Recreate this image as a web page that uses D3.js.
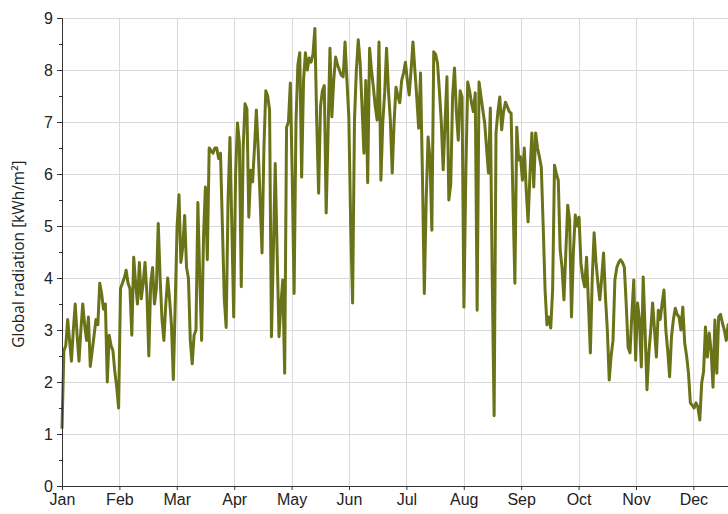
<!DOCTYPE html>
<html>
<head>
<meta charset="utf-8">
<script src="https://cdn.jsdelivr.net/npm/d3@7"></script>
<style>
  html, body { margin: 0; padding: 0; background: #fff; overflow: hidden; }
  svg { display: block; font-family: "Open Sans", "Noto Sans", sans-serif; }
</style>
</head>
<body>
<svg id="chart" width="728" height="514"></svg>
<script>
// ---- data (kWh/m² per day) ----
const months = ["Jan","Feb","Mar","Apr","May","Jun","Jul","Aug","Sep","Oct","Nov","Dec"];
const yTicks = [0,1,2,3,4,5,6,7,8,9];

const jan = [1.1,2.6,2.7,3.2,2.8,2.4,3.0,3.5,2.9,2.4,3.0,3.5,3.1,2.8,3.25,2.3,2.6,2.9,3.2,3.1,3.9,3.7,3.4,3.5,2.0,2.9,2.7,2.6,2.2,1.9,1.5];
const feb = [3.8,3.9,4.0,4.15,3.9,3.8,2.9,4.4,3.9,3.5,4.3,3.6,3.9,4.3,3.7,2.5,3.9,4.2,3.5,3.8,5.05,4.0,3.2,2.8,3.5,4.0,3.6,3.1];
const mar = [2.05,3.5,5.0,5.6,4.3,4.6,5.2,4.2,4.0,2.8,2.35,2.9,3.0,5.45,4.0,2.8,4.8,5.75,4.35,6.5,6.45,6.4,6.5,6.5,6.3,6.4,5.0,3.6,3.05,5.5,6.7];
const apr = [5.0,3.25,6.0,6.98,6.6,3.83,6.5,7.35,7.25,5.17,6.07,5.85,6.5,7.23,6.46,5.5,4.48,6.5,7.6,7.5,7.23,2.87,4.5,6.2,4.5,2.87,3.5,3.96,2.17,6.9];
const may = [7.0,7.75,6.0,3.7,7.0,8.1,8.33,5.94,7.8,8.33,8.0,8.23,8.15,8.3,8.8,7.0,5.63,7.3,7.6,7.7,5.25,6.8,8.42,7.1,7.8,8.25,8.1,8.0,7.9,7.87,8.54];
const jun = [7.8,7.1,5.0,3.52,7.04,8.0,8.58,8.13,7.3,6.4,7.8,5.83,8.42,8.0,7.67,7.3,7.04,8.54,5.88,7.0,7.56,8.42,7.6,7.04,6.02,7.0,7.67,7.5,7.37,7.8];
const jul = [7.94,8.15,7.8,7.52,8.0,8.54,8.0,7.48,6.88,7.94,6.0,3.7,5.5,6.71,6.3,4.92,8.35,8.3,8.13,7.6,7.0,6.08,7.0,7.87,5.5,5.8,7.5,8.04,7.2,6.65,7.6];
const aug = [7.48,3.44,6.0,7.77,7.6,7.37,7.2,7.56,3.38,7.77,7.5,7.23,6.98,6.5,6.02,7.27,4.0,1.35,6.79,7.2,7.48,6.85,7.2,7.38,7.3,7.2,7.17,5.5,3.9,6.9,6.27];
const sep = [6.33,5.88,6.5,5.69,5.08,6.0,6.79,5.75,6.79,6.5,6.33,6.13,5.0,3.77,3.1,3.25,3.04,3.77,6.17,6.0,5.88,4.54,4.2,3.58,4.5,5.4,5.12,3.25,4.5,5.21];
const oct = [5.0,5.17,4.29,4.0,3.83,4.4,3.5,2.56,4.0,4.87,4.3,3.9,3.58,4.0,4.48,3.63,3.0,2.04,2.5,2.8,3.96,4.2,4.3,4.35,4.3,4.21,3.5,2.67,2.56,3.3,3.96];
const nov = [2.42,3.52,3.2,2.29,4.02,3.0,1.85,2.56,3.0,3.52,3.0,2.48,3.38,3.2,3.5,3.77,3.0,2.6,2.1,2.87,3.2,3.42,3.3,3.25,3.0,3.44,2.75,2.5,2.17,1.6];
const dec = [1.55,1.5,1.6,1.52,1.27,1.98,2.2,3.06,2.48,2.94,2.6,1.9,3.19,2.17,3.25,3.3,3.13,3.0,2.8,3.1,2.7,2.5,3.0,2.2,2.8,1.9,2.4,3.0,2.6,2.1,2.7];

const radiation = [].concat(jan, feb, mar, apr, may, jun, jul, aug, sep, oct, nov, dec);

// ---- layout ----
const svg = d3.select("#chart");
const mLeft = 62, mTop = 18, mBottom = 486;
const dayPx = 1.887;
const x = d3.scaleLinear().domain([0, 365]).range([mLeft, mLeft + 365 * dayPx]);
const y = d3.scaleLinear().domain([0, 9]).range([mBottom, mTop]);
const monthPos = months.map((m, i) => i * 365 / 12);

// gridlines
const grid = svg.append("g");
grid.selectAll("line.h").data(yTicks).enter().append("line")
  .attr("x1", mLeft).attr("x2", 728)
  .attr("y1", d => Math.round(y(d)) + 0.5).attr("y2", d => Math.round(y(d)) + 0.5)
  .attr("stroke", "#d9d9d9").attr("stroke-width", 1);
grid.selectAll("line.v").data(monthPos.slice(1)).enter().append("line")
  .attr("x1", d => Math.round(x(d)) + 0.5).attr("x2", d => Math.round(x(d)) + 0.5)
  .attr("y1", mTop).attr("y2", mBottom)
  .attr("stroke", "#d9d9d9").attr("stroke-width", 1);

// line
const line = d3.line().x((d, i) => x(i)).y(d => y(d)).curve(d3.curveLinear);
svg.append("path").datum(radiation)
  .attr("d", line)
  .attr("fill", "none")
  .attr("stroke", "#6b7318")
  .attr("stroke-width", 3)
  .attr("stroke-linejoin", "round");

// y axis
const yAxis = svg.append("g").attr("transform", `translate(${mLeft},0)`)
  .call(d3.axisLeft(y).tickValues(yTicks).tickSize(5).tickFormat(d3.format("d")));
svg.append("g").attr("transform", `translate(${mLeft},0)`)
  .call(d3.axisLeft(y).tickValues(d3.range(0.5, 9, 1)).tickSize(3).tickFormat(""))
  .select(".domain").remove();

// x axis
const xAxis = svg.append("g").attr("transform", `translate(0,${mBottom})`)
  .call(d3.axisBottom(x).tickValues(monthPos).tickSize(4).tickFormat((d, i) => months[i]));
xAxis.select(".domain").attr("d", `M${mLeft},0.5H728`);

svg.selectAll(".tick text").attr("fill", "#222").style("font-size", "16px");
svg.selectAll(".domain, .tick line").attr("stroke", "#333");
yAxis.selectAll(".tick text").attr("x", -9);
xAxis.selectAll(".tick text").attr("y", 8);

// y title
svg.append("text")
  .attr("transform", `translate(24,${(mTop + mBottom) / 2 + 2}) rotate(-90)`)
  .attr("text-anchor", "middle")
  .attr("fill", "#222")
  .style("font-size", "15.5px")
  .text("Global radiation [kWh/m²]");
</script>
</body>
</html>
